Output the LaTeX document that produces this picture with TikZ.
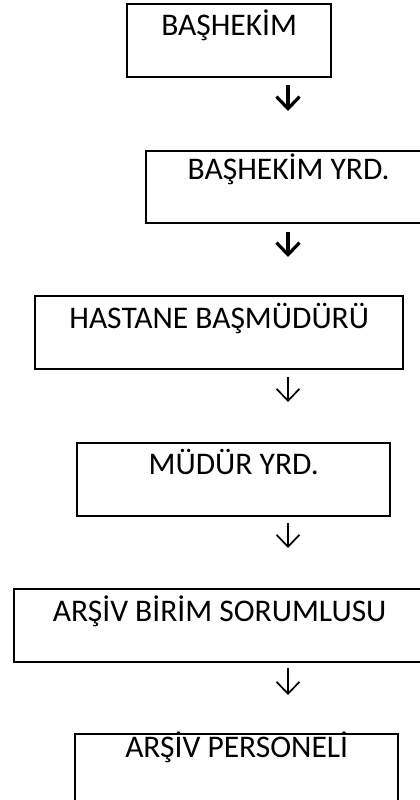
\documentclass[tikz,border=0pt]{standalone}
\usepackage{fontspec}
\setmainfont{Carlito}
\usetikzlibrary{arrows.meta}

\begin{document}
\begin{tikzpicture}[x=1pt,y=-1pt,
    box/.style={draw,line width=2.4pt,inner sep=0pt,text height=31pt,
      text depth=42pt,font=\fontsize{31.5}{36}\selectfont,anchor=north west},
    arr/.style={-{Straight Barb[length=12pt,width=23pt]},line width=1.7pt},
    heavy/.style={line width=3.2pt}
  ]
    \useasboundingbox (0,0) rectangle (420,800);
    \node[box,minimum width=204pt] (bashekim) at (126,3) {BAŞHEKİM};
    \node[box,minimum width=285pt,text height=28pt,text depth=44pt] (yrd) at (145,150) {BAŞHEKİM YRD.};
    \node[box,minimum width=368pt,text height=32pt,text depth=41pt] (mudur) at (34,295) {HASTANE BAŞMÜDÜRÜ};
    \node[box,minimum width=313pt] (mudyrd) at (76,442) {MÜDÜR YRD.};
    \node[box,minimum width=411pt,text height=32pt,text depth=41pt] (sorumlu) at (13,588) {ARŞİV BİRİM SORUMLUSU};
    \node[box,minimum width=323pt,text height=23pt,text depth=77pt] (personel) at (74,733) {ARŞİV PERSONELİ};
    % arrows between the levels
    \coordinate (a1) at (288,85);  \coordinate (b1) at (288,111);
    \coordinate (a2) at (288,232); \coordinate (b2) at (288,257);
    \coordinate (a3) at (288,377); \coordinate (b3) at (288,402);
    \coordinate (a4) at (288,523); \coordinate (b4) at (288,548);
    \coordinate (a5) at (288,668); \coordinate (b5) at (288,695);
    \draw[arr,heavy] (a1) -- (b1);
    \draw[arr,heavy] (a2) -- (b2);
    \draw[arr] (a3) -- (b3);
    \draw[arr] (a4) -- (b4);
    \draw[arr] (a5) -- (b5);
  \end{tikzpicture}
\end{document}
